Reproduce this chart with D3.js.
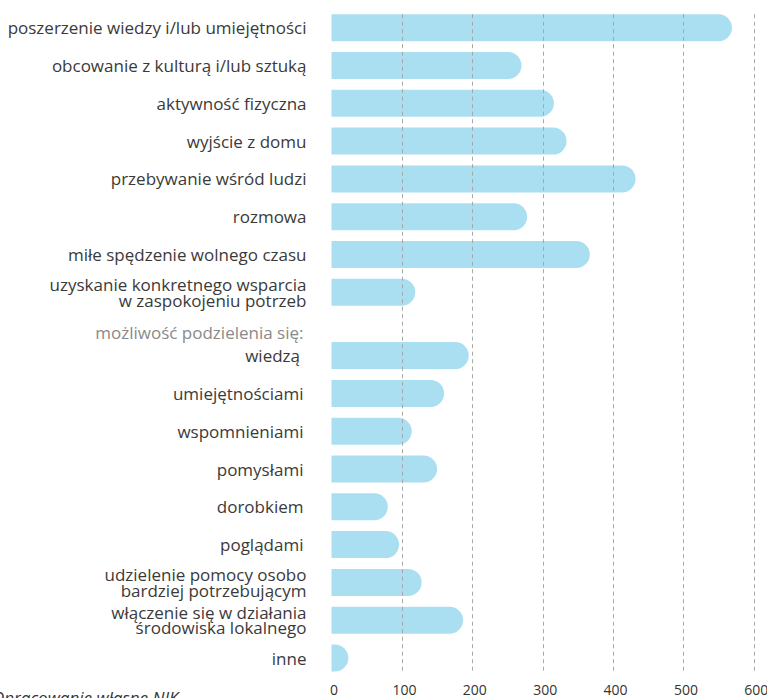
<!DOCTYPE html>
<html>
<head>
<meta charset="utf-8">
<script src="https://cdn.jsdelivr.net/npm/d3@7"></script>
<style>
  body { margin: 0; background: #fff; }
  svg { display: block; }
  text { font-family: "Open Sans", sans-serif; }
</style>
</head>
<body>
<div id="chart-area"></div>
<script>
// data
const categories = [
  'poszerzenie wiedzy i/lub umiejętności',
  'obcowanie z kulturą i/lub sztuką',
  'aktywność fizyczna',
  'wyjście z domu',
  'przebywanie wśród ludzi',
  'rozmowa',
  'miłe spędzenie wolnego czasu',
  'uzyskanie konkretnego wsparcia\nw zaspokojeniu potrzeb',
  'wiedzą',
  'umiejętnościami',
  'wspomnieniami',
  'pomysłami',
  'dorobkiem',
  'poglądami',
  'udzielenie pomocy osobo\nbardziej potrzebującym',
  'włączenie się w działania\nśrodowiska lokalnego',
  'inne'
]
const values = [569, 270, 316, 334, 432, 278, 367, 119, 195, 160, 114, 150, 80, 96, 128, 187, 24]
const subHeader = 'możliwość podzielenia się:'
const subStart = 'wiedzą'
const subItems = ['wiedzą', 'umiejętnościami', 'wspomnieniami', 'pomysłami', 'dorobkiem', 'poglądami']
const tickValues = [0, 100, 200, 300, 400, 500, 600]
const source = 'Opracowanie własne NIK'

const width = 767
const height = 698
const headerGap = 25.5

const svg = d3.select('#chart-area').append('svg')
  .attr('width', width)
  .attr('height', height)

const data = categories.map((c, i) => ({name: c, value: values[i], idx: i}))
const startIdx = categories.indexOf(subStart)

const x = d3.scaleLinear()
  .domain([0, 600])
  .range([331.5, 753.8])

const y = d3.scaleBand()
  .domain(categories)
  .range([8.8, 651.4])
  .paddingInner(0.285)
  .paddingOuter(0.1425)

const yPos = d => y(d) + (categories.indexOf(d) >= startIdx ? headerGap : 0)
const bh = y.bandwidth()

// bars: square left, rounded right end
const barPath = d => {
  const x0 = x(0), x1 = x(d.value), y0 = yPos(d.name), r = bh / 2
  const xr = Math.max(x0, x1 - r)
  return `M${x0},${y0}H${xr}A${r},${r} 0 0 1 ${xr},${y0 + bh}H${x0}Z`
}

svg.append('g').selectAll('path')
  .data(data)
  .enter().append('path')
    .attr('d', barPath)
    .attr('fill', '#aadff1')

// dashed grid on top of bars
const gridTop = yPos(categories[0])
const gridBottom = yPos(categories[categories.length - 1]) + bh
svg.append('g').selectAll('line')
  .data(tickValues.filter(t => t > 0))
  .enter().append('line')
    .attr('x1', d => Math.round(x(d)) + 0.5)
    .attr('x2', d => Math.round(x(d)) + 0.5)
    .attr('y1', gridTop)
    .attr('y2', gridBottom)
    .attr('stroke', '#a8a8a8')
    .attr('stroke-width', 1)
    .attr('stroke-dasharray', '4,3.5')

// x axis labels
svg.append('g').selectAll('text')
  .data(tickValues)
  .enter().append('text')
    .attr('x', d => x(d) + 2.5)
    .attr('y', 695)
    .attr('text-anchor', 'middle')
    .attr('font-size', 14)
    .attr('fill', '#333')
    .text(d => d)

// category labels
const labels = svg.append('g').selectAll('text')
  .data(data)
  .enter().append('text')
    .attr('text-anchor', 'end')
    .attr('font-size', 17)
    .attr('fill', '#3a3a3a')
    .attr('x', d => subItems.includes(d.name) ? (d.name === 'wiedzą' ? 300 : 303.5) : 306.5)
    .attr('y', d => yPos(d.name) + bh / 2)

labels.each(function(d) {
  const lines = d.name.split('\n')
  const el = d3.select(this)
  const lh = 15.5
  lines.forEach((ln, j) => {
    el.append('tspan')
      .attr('x', el.attr('x'))
      .attr('y', +el.attr('y') + 6.5 + (j - (lines.length - 1) / 2) * lh)
      .text(ln)
  })
})

// sub group header
svg.append('text')
  .attr('x', 303.5)
  .attr('y', yPos(subStart) + bh / 2 - 17)
  .attr('text-anchor', 'end')
  .attr('font-size', 17)
  .attr('fill', '#8a8a8a')
  .text(subHeader)

// source note (cut by the frame)
svg.append('text')
  .attr('x', -8)
  .attr('y', 704)
  .attr('font-size', 17)
  .attr('font-style', 'italic')
  .attr('fill', '#333')
  .text(source)
</script>
</body>
</html>
